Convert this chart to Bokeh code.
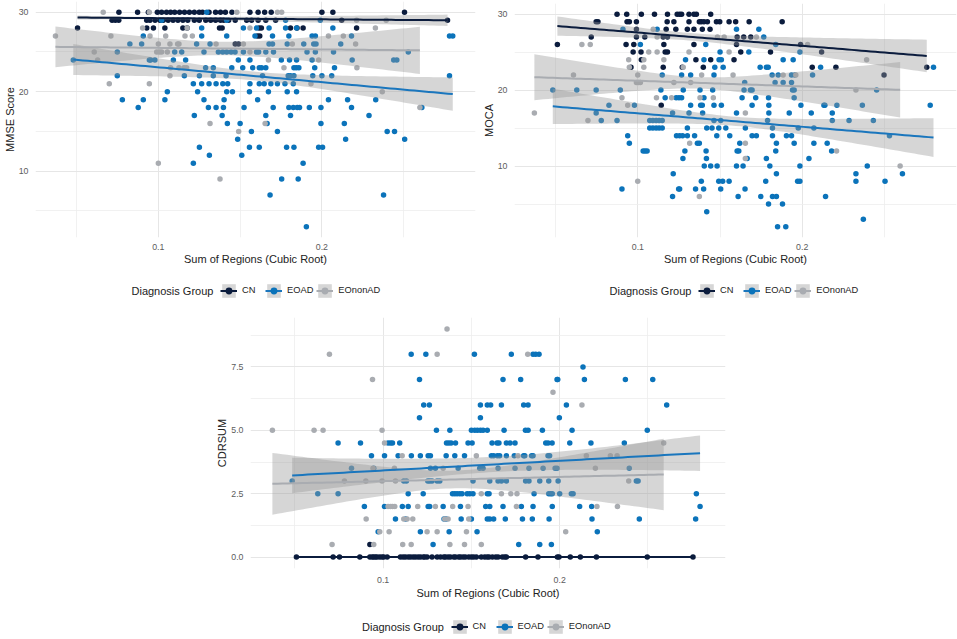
import numpy as np
from bokeh.plotting import figure
from bokeh.models import FixedTicker, Legend, LegendItem, Range1d, Spacer, Label
from bokeh.layouts import row, column
from bokeh.embed import file_html
from bokeh.resources import INLINE

FONT = "Liberation Sans"
groups = ["CN", "EOAD", "EOnonAD"]
legend_title = "Diagnosis Group"
point_colors = ["#0b1c3d", "#0b73ba", "#a9acb1"]
line_colors = ["#0b1c3d", "#1a76bd", "#a9acb1"]

x_range = (0.0249, 0.2939)
x_ticks = [0.1, 0.2]
x_tick_labels = ["0.1", "0.2"]
x_minor = [0.05, 0.15, 0.25]

# ---------------- MMSE (score -> list of x values) ----------------
mmse_cn = {
    30: [0.0759, 0.0873, 0.0939, 0.0994, 0.102, 0.105, 0.1075, 0.110, 0.113, 0.116, 0.119, 0.122,
         0.125, 0.127, 0.131, 0.135, 0.138, 0.141, 0.145, 0.156, 0.161, 0.165, 0.169, 0.200, 0.2067, 0.2505],
    29: [0.0717, 0.0737, 0.0758, 0.0929, 0.0949, 0.098, 0.101, 0.103, 0.106, 0.109, 0.112, 0.115,
         0.118, 0.122, 0.125, 0.129, 0.132, 0.135, 0.138, 0.140, 0.143, 0.147, 0.154, 0.157, 0.161,
         0.1657, 0.1717, 0.2121, 0.2768],
    28: [0.0506, 0.0929, 0.097, 0.104, 0.115, 0.1176, 0.1374, 0.139, 0.1616, 0.163, 0.1808, 0.1848,
         0.1885, 0.2212],
    27: [0.1606, 0.162],
    26: [0.147, 0.149],
}
mmse_eoad = {
    30: [0.1296],
    29: [0.102, 0.1418, 0.1778, 0.199],
    28: [0.1265, 0.152, 0.160, 0.1677, 0.1778, 0.1845, 0.2067],
    27: [0.0908, 0.1265, 0.1418, 0.1591, 0.1698, 0.1798, 0.194, 0.196, 0.2181, 0.278, 0.280],
    26: [0.0826, 0.0898, 0.1234, 0.1316, 0.1677, 0.1698, 0.1788, 0.1889, 0.195, 0.1964, 0.2115],
    25: [0.0749, 0.110, 0.1143, 0.1279, 0.1367, 0.1394, 0.1418, 0.1445, 0.1469, 0.152, 0.160, 0.1613,
         0.1657, 0.1704, 0.1909, 0.196, 0.2071, 0.2528],
    24: [0.048, 0.0945, 0.0953, 0.0979, 0.1092, 0.1167, 0.1489, 0.156, 0.1752, 0.1802, 0.1845, 0.194,
         0.2185, 0.2439, 0.2458],
    23: [0.1289, 0.1336, 0.1449, 0.1516, 0.1577, 0.1617, 0.1631, 0.1657, 0.1829, 0.1843, 0.1859,
         0.1956, 0.2077],
    22: [0.0749, 0.1159, 0.1251, 0.1336, 0.1414, 0.1637, 0.1794, 0.1808, 0.1829, 0.1944, 0.2, 0.206, 0.278],
    21: [0.1214, 0.1265, 0.131, 0.1353, 0.1394, 0.1424, 0.156, 0.1617, 0.1647, 0.1688, 0.1728, 0.1774, 0.1825],
    20: [0.1055, 0.124, 0.1418, 0.1453, 0.1557, 0.1673, 0.1788, 0.1845],
    19: [0.078, 0.0908, 0.104, 0.1279, 0.1402, 0.1607, 0.204, 0.2157, 0.2329],
    18: [0.0877, 0.1306, 0.1353, 0.1398, 0.1524, 0.1702, 0.1798, 0.1825, 0.1849, 0.1863, 0.1923,
         0.1994, 0.2181, 0.2611],
    17: [0.122, 0.139, 0.1657, 0.1808, 0.2288],
    16: [0.1422, 0.150, 0.1665, 0.1994, 0.2137],
    15: [0.1569, 0.1728, 0.2399, 0.2444],
    14: [0.1485, 0.2145, 0.2506],
    13: [0.1251, 0.1557, 0.1617, 0.1784, 0.1829, 0.198, 0.2004],
    12: [0.1312, 0.151],
    11: [0.1214, 0.1885],
    9: [0.1754, 0.1855],
    7: [0.1683, 0.2377],
    3: [0.1905],
}
mmse_eononad = {
    30: [0.0663, 0.0945, 0.148, 0.1728, 0.1754],
    29: [0.2212, 0.2393],
    28: [0.0904, 0.1176, 0.156, 0.2327],
    27: [0.0371, 0.071, 0.0949, 0.1045, 0.1163, 0.1208, 0.204, 0.2131],
    26: [0.1, 0.1071, 0.1118, 0.1126, 0.1353, 0.152, 0.1819, 0.2206],
    25: [0.0608, 0.099, 0.1006, 0.102, 0.1055, 0.156],
    24: [0.0629, 0.1673, 0.198],
    23: [0.1075, 0.1126, 0.1157, 0.1173, 0.1768, 0.2214],
    22: [0.1071],
    21: [0.070, 0.0945, 0.1933],
    20: [0.2369],
    18: [0.2599],
    16: [0.1316, 0.1653],
    15: [0.1491],
    11: [0.100],
    9: [0.1377],
}

# ---------------- MOCA ----------------
moca_cn = {
    30: [0.0873, 0.0932, 0.1021, 0.1101, 0.118, 0.1239, 0.1254, 0.1266, 0.1311, 0.1341, 0.1356, 0.1443],
    29: [0.0746, 0.0757, 0.0934, 0.0948, 0.0991, 0.1178, 0.1219, 0.1311, 0.1374, 0.1386, 0.1402, 0.1423,
         0.1478, 0.1498, 0.1555, 0.1595, 0.1677, 0.1878],
    28: [0.0991, 0.1172, 0.1231, 0.1301, 0.1341, 0.1392, 0.1439],
    27: [0.0716, 0.0991, 0.1042, 0.1154, 0.118, 0.1604, 0.1644, 0.1687],
    26: [0.051, 0.0928, 0.0975, 0.1158, 0.1341, 0.16, 0.199],
    25: [0.0971, 0.1019, 0.1166, 0.118, 0.1626, 0.1807, 0.2118],
    24: [0.1021, 0.1353, 0.1443, 0.1585],
    23: [0.0958, 0.1154, 0.127, 0.1398, 0.2061, 0.2205, 0.2758],
    22: [0.2498],
    18: [0.1142],
}
moca_eoad = {
    28: [0.0909, 0.1117, 0.16, 0.1736],
    27: [0.1766],
    26: [0.1015, 0.1413, 0.1839],
    25: [0.1500, 0.1675, 0.1986],
    24: [0.129, 0.1402, 0.1494, 0.1508, 0.1884, 0.1945],
    23: [0.1468, 0.1519, 0.1744, 0.1782, 0.1793, 0.2112, 0.2799],
    22: [0.1148, 0.1266, 0.1321, 0.1463, 0.1817, 0.1854, 0.1935, 0.1955, 0.2063],
    21: [0.165, 0.1835, 0.1884, 0.1935],
    20: [0.0482, 0.0628, 0.0746, 0.0893, 0.114, 0.1276, 0.1378, 0.1455, 0.1646, 0.1685, 0.1695,
         0.1941, 0.1951, 0.2453],
    19: [0.1166, 0.1233, 0.125, 0.1266, 0.1402, 0.1634, 0.1717, 0.1795, 0.1951],
    18: [0.0824, 0.0979, 0.1321, 0.1382, 0.1392, 0.1463, 0.1508, 0.1695, 0.1797, 0.1992, 0.2132,
         0.2138, 0.2211, 0.2366, 0.2779],
    17: [0.0746, 0.1211, 0.1311, 0.1394, 0.16, 0.1797, 0.1921, 0.2055, 0.2183],
    16: [0.0777, 0.0873, 0.1072, 0.1091, 0.1111, 0.1129, 0.1148, 0.1463, 0.1504, 0.1789, 0.2183,
         0.2285, 0.2433],
    15: [0.1072, 0.1091, 0.1111, 0.1129, 0.1148, 0.1301, 0.1419, 0.1451, 0.1492, 0.1535, 0.1654,
         0.1819, 0.1976, 0.2071],
    14: [0.0938, 0.1235, 0.1254, 0.1272, 0.1301, 0.1345, 0.148, 0.1559, 0.1695, 0.1721, 0.1819,
         0.1904, 0.1935, 0.2531],
    13: [0.0948, 0.1362, 0.1374, 0.162, 0.1843, 0.1951, 0.2071, 0.2152],
    12: [0.1032, 0.1044, 0.1056, 0.1286, 0.1415, 0.1604, 0.1614, 0.1839, 0.2179],
    11: [0.1274, 0.1417, 0.1665, 0.1782, 0.2041],
    10: [0.1404, 0.1443, 0.1482, 0.16, 0.164, 0.1803, 0.1986, 0.2396],
    9: [0.1215, 0.1843, 0.2327, 0.261],
    8: [0.1386, 0.1492, 0.1516, 0.1555, 0.1778, 0.1972, 0.1986, 0.2327, 0.2504],
    7: [0.0903, 0.1248, 0.1254, 0.1351, 0.14, 0.1504, 0.1652],
    6: [0.1211, 0.161, 0.1748, 0.1819, 0.1843, 0.2142],
    5: [0.1795, 0.188],
    4: [0.1419],
    3: [0.2372],
    2: [0.185, 0.19],
}
moca_eononad = {
    28: [0.1093],
    27: [0.1117, 0.1484, 0.1525, 0.1721],
    26: [0.0659, 0.071, 0.2033],
    25: [0.1066, 0.1117, 0.1311, 0.1555],
    24: [0.0944, 0.1036, 0.1158, 0.2392],
    23: [0.0948, 0.1036, 0.1276],
    22: [0.0608, 0.0999, 0.1388, 0.1579, 0.1884, 0.1961],
    21: [0.0991, 0.1003, 0.1015, 0.1219, 0.1321],
    20: [0.2327],
    19: [0.0903, 0.1113, 0.1205, 0.1378, 0.1459],
    18: [0.0938],
    17: [0.037, 0.1654],
    16: [0.0696],
    13: [0.1315, 0.1654],
    12: [0.2209],
    11: [0.1654],
    10: [0.2596],
    8: [0.0999],
    6: [0.1374],
}

# ---------------- CDRSUM ----------------
cdr_cn = {
    0.0: [0.0509, 0.0717, 0.0753, 0.0868, 0.0925, 0.0938, 0.0947, 0.0957, 0.0966, 0.0981, 0.0994,
          0.1004, 0.1023, 0.1098, 0.1113, 0.1126, 0.1142, 0.1155, 0.117, 0.1183, 0.1198, 0.1211,
          0.1227, 0.1236, 0.1249, 0.1277, 0.1306, 0.1325, 0.1344, 0.1353, 0.1368, 0.1381, 0.14,
          0.141, 0.1428, 0.1438, 0.1453, 0.1466, 0.1485, 0.15, 0.1513, 0.1528, 0.1556, 0.1575,
          0.1589, 0.16, 0.1619, 0.1638, 0.1651, 0.1675, 0.1689, 0.1698, 0.1807, 0.1877, 0.1987,
          0.1996, 0.206, 0.2117, 0.2208, 0.2496, 0.2755],
    0.5: [0.0925],
}
cdr_eoad = {
    8.0: [0.1159, 0.1242, 0.1517, 0.1726, 0.1849, 0.1864, 0.1883],
    7.5: [0.2132],
    7.0: [0.1206, 0.1679, 0.1779, 0.1985, 0.1989, 0.214, 0.2372, 0.2527],
    6.0: [0.123, 0.1262, 0.1551, 0.159, 0.1609, 0.167, 0.1796, 0.1821, 0.2038, 0.2606],
    5.5: [0.1206, 0.1551, 0.1998],
    5.0: [0.1302, 0.1378, 0.15, 0.1519, 0.1534, 0.1551, 0.1566, 0.159, 0.1685, 0.1806, 0.1821,
          0.1902, 0.207, 0.2496],
    4.5: [0.0745, 0.0872, 0.1028, 0.1042, 0.1053, 0.1094, 0.1359, 0.1372, 0.1385, 0.141, 0.1481,
          0.1504, 0.1617, 0.1645, 0.1656, 0.1698, 0.1719, 0.1747, 0.1921, 0.1934, 0.1957, 0.2057,
          0.2177, 0.2366],
    4.0: [0.0934, 0.1008, 0.1085, 0.116, 0.1211, 0.1255, 0.1268, 0.1357, 0.1406, 0.1461, 0.1613,
          0.1626, 0.1647, 0.166, 0.1698, 0.1743, 0.1796, 0.1802, 0.1841, 0.1849, 0.1934, 0.1943],
    3.5: [0.0821, 0.0947, 0.1268, 0.1296, 0.1425, 0.1547, 0.1566, 0.1651, 0.1747, 0.1826, 0.1906,
          0.1974, 0.1985, 0.2394],
    3.0: [0.0485, 0.1117, 0.1132, 0.1253, 0.1264, 0.1277, 0.1306, 0.1321, 0.1509, 0.1604, 0.1651,
          0.167, 0.1698, 0.1807, 0.1826, 0.1887, 0.1938, 0.1991, 0.2434, 0.2444],
    2.5: [0.063, 0.0745, 0.1142, 0.1227, 0.1393, 0.1406, 0.1419, 0.1434, 0.1447, 0.1476, 0.1491,
          0.1509, 0.159, 0.16, 0.1855, 0.1938, 0.1949, 0.1958, 0.2, 0.2066, 0.2076, 0.2774],
    2.0: [0.0894, 0.1008, 0.1109, 0.1142, 0.1255, 0.1264, 0.134, 0.1438, 0.1581, 0.1604, 0.1679,
          0.1783, 0.1849, 0.1958, 0.2113, 0.2181, 0.2795],
    1.5: [0.107, 0.1128, 0.1345, 0.1357, 0.1442, 0.15, 0.159, 0.1604, 0.1626, 0.1692, 0.1789,
          0.1845, 0.194, 0.2183, 0.2451, 0.277],
    1.0: [0.0972, 0.1211, 0.1374, 0.1532, 0.2213],
    0.5: [0.1283, 0.1768, 0.1887, 0.1953],
}
cdr_eononad = {
    9.0: [0.1362],
    8.0: [0.0696, 0.1306, 0.1819],
    7.0: [0.094],
    6.5: [0.1962],
    6.0: [0.2126],
    5.0: [0.0373, 0.0609, 0.066, 0.0994],
    4.5: [0.1008, 0.2589],
    4.0: [0.1108, 0.1528, 0.1764, 0.2151, 0.2287, 0.2325],
    3.5: [0.0943, 0.1064, 0.134, 0.2202],
    3.0: [0.0781, 0.0902, 0.0994, 0.107, 0.2391],
    2.5: [0.1556, 0.167, 0.1723, 0.1758],
    2.0: [0.1028, 0.1042, 0.1053, 0.1066, 0.1196, 0.1296, 0.1394, 0.1481, 0.1755, 0.2211, 0.2327],
    1.5: [0.0904, 0.1117, 0.1136, 0.1168, 0.1349, 0.1368, 0.1485],
    1.0: [0.0981, 0.1034, 0.1249, 0.1306, 0.1472, 0.2034],
    0.5: [0.0711, 0.0947, 0.1111, 0.1159, 0.1378, 0.1461, 0.1556],
}

# ---------------- linear fits ----------------
# (x start, x end, y start, y end, CI half-width at start, narrowest, at end)
mmse_fit = [(0.0506, 0.2768, 29.33, 28.99, 0.25, 0.15, 0.71),
            (0.0480, 0.2800, 24.05, 19.70, 1.95, 0.55, 2.10),
            (0.0371, 0.2599, 25.64, 25.20, 2.56, 0.85, 2.97)]
moca_fit = [(0.0510, 0.2758, 28.43, 24.50, 1.27, 0.50, 2.14),
            (0.0482, 0.2799, 17.86, 13.76, 2.33, 0.60, 2.55),
            (0.0370, 0.2596, 21.70, 20.04, 3.03, 0.75, 3.65)]
cdr_fit = [(0.0509, 0.2755, 0.00, 0.00, 0.0, 0.0, 0.0),
           (0.0485, 0.2795, 3.22, 4.10, 0.70, 0.30, 0.70),
           (0.0373, 0.2589, 2.89, 3.26, 1.22, 0.35, 1.41)]

mmse_y_ticks = [10, 20, 30]
mmse_y_labels = ["10", "20", "30"]
mmse_y_minor = [5, 15, 25]
moca_y_ticks = [10, 20, 30]
moca_y_labels = ["10", "20", "30"]
moca_y_minor = [5, 15, 25]
cdr_y_ticks = [0, 2.5, 5, 7.5]
cdr_y_labels = ["0.0", "2.5", "5.0", "7.5"]
cdr_y_minor = [1.25, 3.75, 6.25, 8.75]

BAND_FILL = "#999999"
BAND_ALPHA = 0.4


def flatten(d):
    xs, ys = [], []
    for yv, xl in d.items():
        xs += list(xl)
        ys += [yv] * len(xl)
    return xs, ys


def band(x0, x1, y0, y1, hl, hm, hr, n=80):
    xs = np.linspace(x0, x1, n)
    ys = y0 + (y1 - y0) * (xs - x0) / (x1 - x0)
    a = np.sqrt(max(hl ** 2 - hm ** 2, 0.0))
    b = np.sqrt(max(hr ** 2 - hm ** 2, 0.0))
    if a + b == 0:
        half = np.full_like(xs, hm)
    else:
        xc = (a * x1 + b * x0) / (a + b)
        k = (a / (xc - x0)) ** 2 if a > 0 else (b / (x1 - xc)) ** 2
        half = np.sqrt(hm ** 2 + k * (xs - xc) ** 2)
    return xs, ys, ys - half, ys + half


def panel(width, height, y_range, y_title, datasets, fits, yt, ytl, ym, borders, standoffs):
    bl, br, bt, bb = borders
    p = figure(width=width, height=height, x_range=Range1d(*x_range), y_range=Range1d(*y_range),
               output_backend="svg", toolbar_location=None,
               min_border_left=bl, min_border_right=br, min_border_top=bt, min_border_bottom=bb)
    p.outline_line_color = None
    p.border_fill_color = "white"
    p.xaxis.ticker = FixedTicker(ticks=x_ticks, minor_ticks=x_minor)
    p.yaxis.ticker = FixedTicker(ticks=yt, minor_ticks=ym)
    p.xaxis.major_label_overrides = dict(zip(x_ticks, x_tick_labels))
    p.yaxis.major_label_overrides = dict(zip(yt, ytl))
    p.xgrid.ticker = FixedTicker(ticks=x_ticks, minor_ticks=x_minor)
    p.ygrid.ticker = FixedTicker(ticks=yt, minor_ticks=ym)
    for ax in (p.xaxis[0], p.yaxis[0]):
        ax.axis_line_color = None
        ax.major_tick_line_color = None
        ax.minor_tick_line_color = None
        ax.major_tick_out = 0
        ax.major_tick_in = 0
        ax.major_label_text_font = FONT
        ax.major_label_text_font_size = "8.8px"
        ax.major_label_text_color = "#5c5c5c"
        ax.axis_label_text_font = FONT
        ax.axis_label_text_font_size = "11px"
        ax.axis_label_text_font_style = "normal"
        ax.axis_label_text_color = "#222222"
    p.xaxis.major_label_standoff = standoffs[0]
    p.xaxis.axis_label_standoff = standoffs[1]
    p.yaxis.major_label_standoff = 3
    p.yaxis.axis_label_standoff = 0
    p.xaxis.axis_label = "Sum of Regions (Cubic Root)"
    p.yaxis.axis_label = y_title
    for g in (p.xgrid[0], p.ygrid[0]):
        g.grid_line_color = "#e6e6e6"
        g.grid_line_width = 1
        g.minor_grid_line_color = "#eeeeee"
        g.minor_grid_line_width = 0.8

    for i, d in enumerate(datasets):
        xs, ys = flatten(d)
        p.scatter(xs, ys, size=5.5, fill_color=point_colors[i], line_color=None)
    for i, f in enumerate(fits):
        bx, by, lo, hi = band(*f)
        p.varea(x=bx, y1=lo, y2=hi, fill_color=BAND_FILL, fill_alpha=BAND_ALPHA)
    for i, f in enumerate(fits):
        bx, by, lo, hi = band(*f)
        p.line(bx, by, line_color=line_colors[i], line_width=2)
    return p


def legend_strip(width, height, frame_w, cy):
    # a key strip under a panel (its frame is aligned with the panel frame above it):
    # ggplot-style horizontal legend with its title at the left
    q = figure(width=width, height=height, x_range=Range1d(0, 1), y_range=Range1d(0, 1),
               output_backend="svg", toolbar_location=None,
               x_axis_location=None, y_axis_location=None,
               min_border_left=0, min_border_right=0, min_border_top=0, min_border_bottom=0)
    q.grid.visible = False
    q.outline_line_color = None
    q.border_fill_color = "white"
    items = []
    for i, g in enumerate(groups):
        # key renderers kept outside the visible range; only their legend keys are shown
        b = q.varea(x=[2, 3], y1=[0, 0], y2=[1, 1], fill_color=BAND_FILL, fill_alpha=BAND_ALPHA)
        l = q.line([2, 3], [0.5, 0.5], line_color=line_colors[i], line_width=2)
        s = q.scatter([2.5], [0.5], size=5.5, fill_color=point_colors[i], line_color=None)
        items.append(LegendItem(label=g, renderers=[b, l, s]))
    group_w = 252
    tx = (frame_w - group_w) / 2.0
    q.add_layout(Label(x=tx, y=cy, x_units="screen", y_units="screen", text=legend_title,
                       text_font=FONT, text_font_size="11px", text_color="#222222",
                       text_baseline="middle", text_align="left"))
    legend = Legend(items=items, orientation="horizontal", location=(tx + 89, cy - 8.5),
                    label_text_font=FONT, label_text_font_size="9.3px", label_text_color="#222222",
                    glyph_width=17, glyph_height=17, spacing=3, label_standoff=5,
                    padding=0, margin=0, border_line_color=None, background_fill_alpha=0)
    q.add_layout(legend, "center")
    return q


# top row: 310 px tall; bottom row: 329 px tall (957 x 639 page)
p1 = panel(478, 281, (1.65, 31.35), "MMSE Score", [mmse_cn, mmse_eoad, mmse_eononad], mmse_fit,
           mmse_y_ticks, mmse_y_labels, mmse_y_minor, (31, 3, 1, 44), (2, 0))
l1 = legend_strip(478, 29, 444, 20)
p2 = panel(479, 281, (0.6, 31.4), "MOCA", [moca_cn, moca_eoad, moca_eononad], moca_fit,
           moca_y_ticks, moca_y_labels, moca_y_minor, (36, 1, 3, 44), (2, 0))
l2 = legend_strip(479, 29, 442, 20)
p3 = panel(525, 302, (-0.45, 9.45), "CDRSUM", [cdr_cn, cdr_eoad, cdr_eononad], cdr_fit,
           cdr_y_ticks, cdr_y_labels, cdr_y_minor, (40, 10, 7, 44), (4, 1))
l3 = legend_strip(525, 27, 475, 13)

layout = column(row(column(p1, l1), column(p2, l2)),
                row(Spacer(width=210, height=329), column(p3, l3)))
open("out.html", "w").write(file_html(layout, INLINE))
